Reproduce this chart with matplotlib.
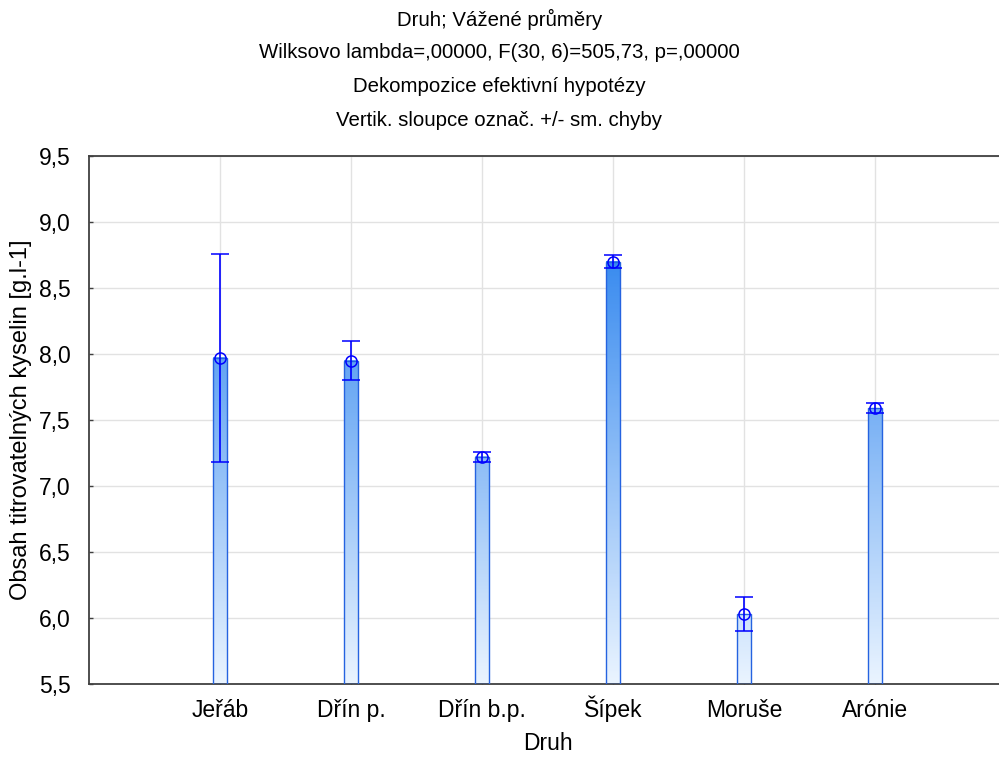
import numpy as np
import matplotlib
matplotlib.use("Agg")
import matplotlib.pyplot as plt
from matplotlib.colors import LinearSegmentedColormap

plt.rcParams['font.family'] = ['Liberation Sans', 'DejaVu Sans']

# data
druh = ['Jeřáb', 'Dřín p.', 'Dřín b.p.', 'Šípek', 'Moruše', 'Arónie']
prumer = [7.97, 7.95, 7.22, 8.70, 6.03, 7.59]
sm_chyba = [0.79, 0.15, 0.04, 0.05, 0.13, 0.04]
yticks = [5.5, 6.0, 6.5, 7.0, 7.5, 8.0, 8.5, 9.0, 9.5]
titulek = ["Druh; Vážené průměry",
           "Wilksovo lambda=,00000, F(30, 6)=505,73, p=,00000",
           "Dekompozice efektivní hypotézy",
           "Vertik. sloupce označ. +/- sm. chyby"]

ymin, ymax = 5.5, 9.5
sirka = 0.1

fig = plt.figure(figsize=(9.99, 7.57), dpi=100)
ax = fig.add_axes([89/999, 73/757, 917/999, 528/757])

cmap = LinearSegmentedColormap.from_list('grad', ['#eaf4ff', '#2a82ee'])
x = np.arange(len(druh))
for i in range(len(druh)):
    grad = np.linspace(ymin, prumer[i], 200).reshape(-1, 1)
    ax.imshow(grad, cmap=cmap, vmin=5.5, vmax=9.0, origin='lower', aspect='auto',
              extent=[x[i]-sirka/2, x[i]+sirka/2, ymin, prumer[i]], zorder=2,
              interpolation='bilinear')
ax.bar(x, np.array(prumer)-ymin, bottom=ymin, width=sirka, facecolor='none',
       edgecolor='#2563e0', linewidth=1.0, zorder=3)
ax.errorbar(x, prumer, yerr=sm_chyba, fmt='o', mfc='none', mec='#0000ff',
            ms=8, mew=1.1, ecolor='#0000ff', elinewidth=1.2, capsize=6.5,
            capthick=1.2, zorder=4)

ax.set_xlim(-1, 6)
ax.set_ylim(ymin, ymax)
ax.set_xticks(x)
ax.set_xticklabels(druh)
ax.set_yticks(yticks)
ax.set_yticklabels([('%.1f' % t).replace('.', ',') for t in yticks])
ax.tick_params(direction='in', length=3, width=1, color='#404040', labelsize=16.5)
ax.tick_params(axis='y', pad=13)
ax.tick_params(axis='x', pad=24)
for lab in ax.get_xticklabels():
    lab.set_verticalalignment('baseline')
ax.grid(True, color='#e2e2e2', linewidth=1.0, zorder=0)
ax.set_axisbelow(True)
for s in ax.spines.values():
    s.set_color('#404040')
    s.set_linewidth(1.3)

ax.set_xlabel('Druh', fontsize=16.5, labelpad=7)
ax.set_ylabel('Obsah titrovatelných kyselin [g.l-1]', fontsize=17, labelpad=5)

for k, t in enumerate(titulek):
    fig.text(0.5, 1 - (19 + 34*k)/757, t, ha='center', va='center', fontsize=14.7)

fig.savefig('out.png', dpi=100)
